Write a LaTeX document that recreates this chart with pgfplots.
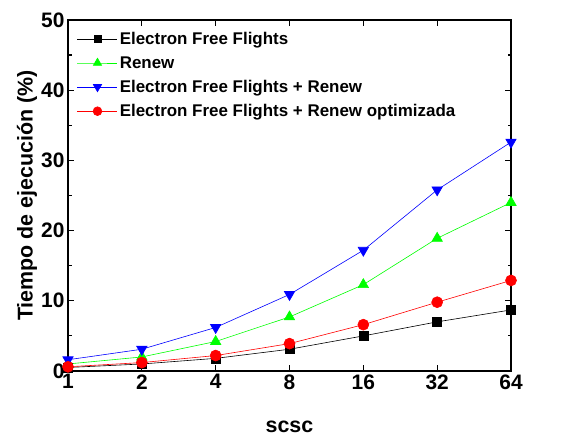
\documentclass[border=0pt]{standalone}
\usepackage{fontspec}
\setmainfont{Liberation Sans}
\usepackage{pgfplots}
\pgfplotsset{compat=1.18}
\begin{document}
\begin{tikzpicture}
\begin{axis}[
 name=ax,
 width=443bp, height=351bp, scale only axis,
 xmin=0, xmax=6, ymin=0, ymax=50,
 xtick={0,...,6}, xticklabels={1,2,4,8,16,32,64},
 ytick={0,10,...,50}, minor ytick={5,15,...,45},
 tick align=inside,
 axis line style={line width=1.2bp},
 every tick/.style={black, line width=1.2bp},
 major tick length=6bp, minor tick length=3.5bp,
 /pgf/number format/assume math mode=true,
 tick label style={font=\fontsize{21}{24}\selectfont\bfseries},
 label style={font=\fontsize{21.5}{25}\selectfont\bfseries, inner sep=0pt},
 xlabel={scsc}, ylabel={Tiempo de ejecución (\%)},
 xlabel style={at={(axis description cs:0.5,0)}, anchor=center, yshift=-56bp},
 ylabel style={at={(axis description cs:0,0.5)}, anchor=center, yshift=41bp},
 legend style={draw=none, fill=none, at={(0.0,1.0)}, anchor=north west,
   font=\fontsize{17}{19}\selectfont\bfseries, row sep=6.5bp, xshift=6bp, yshift=-8bp},
 legend cell align=left,
 legend image code/.code={\draw[mark repeat=2,mark phase=2,#1, every mark/.append style={scale=0.8}] plot coordinates {(0bp,0bp)(20bp,0bp)(40bp,0bp)};},
]
\addplot[black, line width=0.6bp, mark=square*, mark size=4.5bp] coordinates {(0,0.5)(1,1.0)(2,1.8)(3,3.1)(4,5.0)(5,7.0)(6,8.7)};
\addlegendentry{Electron Free Flights}
\addplot[color={rgb,255:red,0;green,255;blue,0}, line width=0.6bp, mark=triangle*, mark size=6bp] coordinates {(0,1.0)(1,2.0)(2,4.2)(3,7.7)(4,12.3)(5,18.9)(6,24.0)};
\addlegendentry{Renew}
\addplot[color={rgb,255:red,0;green,0;blue,255}, line width=0.6bp, mark=triangle*, mark size=6bp, mark options={rotate=180}] coordinates {(0,1.6)(1,3.1)(2,6.2)(3,10.9)(4,17.2)(5,25.8)(6,32.6)};
\addlegendentry{Electron Free Flights + Renew}
\addplot[color={rgb,255:red,255;green,0;blue,0}, line width=0.6bp, mark=*, mark size=5.5bp] coordinates {(0,0.6)(1,1.2)(2,2.2)(3,3.9)(4,6.6)(5,9.8)(6,12.9)};
\addlegendentry{Electron Free Flights + Renew optimizada}
\end{axis}
\path (ax.south west) +(-68bp,-65bp) (ax.north east) +(53bp,20bp);
\end{tikzpicture}
\end{document}
